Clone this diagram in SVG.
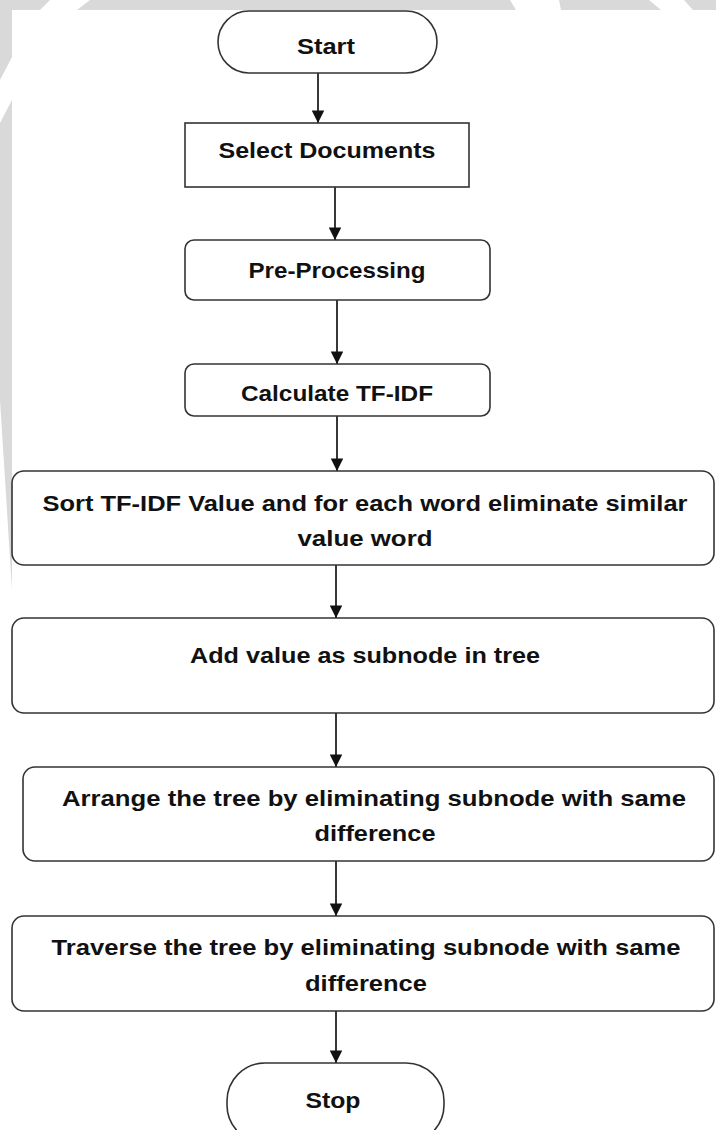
<svg xmlns="http://www.w3.org/2000/svg" width="716" height="1130" viewBox="0 0 716 1130">
  <style>
    .box { fill: #ffffff; stroke: #333333; stroke-width: 1.6; }
    .lbl { font-family: "Liberation Sans", Arial, sans-serif; font-weight: bold; font-size: 22px; fill: #111111; text-anchor: middle; }
    .edge { stroke: #222222; stroke-width: 1.8; fill: none; marker-end: url(#arrow); }
    .wm { fill: #d9d9d9; }
  </style>
  <defs>
    <marker id="arrow" viewBox="0 0 10 10" refX="10" refY="5" markerWidth="7" markerHeight="7" markerUnits="strokeWidth" orient="auto">
      <path d="M0,0 L10,5 L0,10 Z" fill="#111111"/>
    </marker>
  </defs>
  <rect x="0" y="0" width="716" height="1130" fill="#ffffff"/>
  <g id="background">
    <polygon class="wm" points="0,0 50,0 40,10 0,10"/>
    <polygon class="wm" points="90,0 510,0 516,10 77,10"/>
    <polygon class="wm" points="559,0 649,0 661,10 561,10"/>
    <polygon class="wm" points="684,0 716,0 716,10 693,10"/>
    <polygon class="wm" points="0,10 12,10 12,57 0,80"/>
    <polygon class="wm" points="0,123 12,100 12,590 0,400"/>
  </g>
  <g id="connectors">
    <line class="edge" x1="318" y1="73" x2="318" y2="123"/>
    <line class="edge" x1="335" y1="187" x2="335" y2="240"/>
    <line class="edge" x1="337" y1="300" x2="337" y2="364"/>
    <line class="edge" x1="337" y1="416" x2="337" y2="471"/>
    <line class="edge" x1="336" y1="565" x2="336" y2="618"/>
    <line class="edge" x1="336" y1="713" x2="336" y2="767"/>
    <line class="edge" x1="336" y1="861" x2="336" y2="916"/>
    <line class="edge" x1="336" y1="1011" x2="336" y2="1063"/>
  </g>
  <g id="start">
    <rect class="box" x="218" y="11" width="219" height="62" rx="31" ry="31"/>
    <text class="lbl" x="326" y="54" textLength="58" lengthAdjust="spacingAndGlyphs">Start</text>
  </g>
  <g id="select-documents">
    <rect class="box" x="185" y="123" width="284" height="64"/>
    <text class="lbl" x="327" y="158" textLength="217" lengthAdjust="spacingAndGlyphs">Select Documents</text>
  </g>
  <g id="pre-processing">
    <rect class="box" x="185" y="240" width="305" height="60" rx="9" ry="9"/>
    <text class="lbl" x="337" y="278" textLength="177" lengthAdjust="spacingAndGlyphs">Pre-Processing</text>
  </g>
  <g id="calculate-tfidf">
    <rect class="box" x="185" y="364" width="305" height="52" rx="9" ry="9"/>
    <text class="lbl" x="337" y="401" textLength="192" lengthAdjust="spacingAndGlyphs">Calculate TF-IDF</text>
  </g>
  <g id="sort-tfidf">
    <rect class="box" x="12" y="471" width="702" height="94" rx="12" ry="12"/>
    <text class="lbl" x="365" y="511" textLength="645" lengthAdjust="spacingAndGlyphs">Sort TF-IDF Value and for each word eliminate similar</text>
    <text class="lbl" x="365" y="546" textLength="135" lengthAdjust="spacingAndGlyphs">value word</text>
  </g>
  <g id="add-value">
    <rect class="box" x="12" y="618" width="702" height="95" rx="12" ry="12"/>
    <text class="lbl" x="365" y="663" textLength="350" lengthAdjust="spacingAndGlyphs">Add value as subnode in tree</text>
  </g>
  <g id="arrange-tree">
    <rect class="box" x="23" y="767" width="691" height="94" rx="12" ry="12"/>
    <text class="lbl" x="374" y="806" textLength="624" lengthAdjust="spacingAndGlyphs">Arrange the tree by eliminating subnode with same</text>
    <text class="lbl" x="375" y="841" textLength="121" lengthAdjust="spacingAndGlyphs">difference</text>
  </g>
  <g id="traverse-tree">
    <rect class="box" x="12" y="916" width="702" height="95" rx="12" ry="12"/>
    <text class="lbl" x="366" y="955" textLength="629" lengthAdjust="spacingAndGlyphs">Traverse the tree by eliminating subnode with same</text>
    <text class="lbl" x="366" y="991" textLength="122" lengthAdjust="spacingAndGlyphs">difference</text>
  </g>
  <g id="stop">
    <rect class="box" x="227" y="1063" width="217" height="80" rx="38" ry="38"/>
    <text class="lbl" x="333" y="1108" textLength="55" lengthAdjust="spacingAndGlyphs">Stop</text>
  </g>
</svg>
